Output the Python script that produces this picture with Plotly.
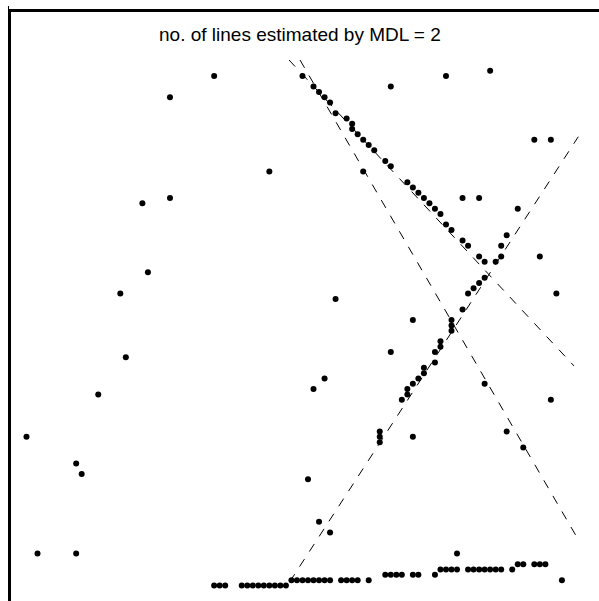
import plotly.graph_objects as go

# Edge-pixel positions (column index, row index from top)
point_cols = [
    3, 12, 13, 5, 12, 16, 21, 20, 25, 24, 29, 29, 37, 47,
    53, 55, 56, 57, 58, 59, 61, 62, 62, 63, 64, 65, 66, 68, 69, 72, 73, 74, 75, 76, 77, 78, 79, 80, 82, 83, 85, 86,
    64, 69, 79, 87, 82, 85, 95, 98, 92, 96, 99,
    88, 89, 89, 90, 86, 85, 84, 83, 82, 80, 80, 80, 78, 78, 77, 77, 75, 75, 74, 73, 72, 72, 71, 67, 67, 67,
    59, 73, 69, 57, 55, 86, 98, 73, 90, 93, 54, 56, 58, 81, 100,
    37, 38, 39, 42, 43, 44, 45, 46, 47, 48, 49, 50,
    51, 52, 53, 54, 55, 56, 57, 58, 60, 61, 62, 63, 65,
    68, 69, 70, 71, 73, 74, 77,
    78, 79, 80, 81, 83, 84, 85, 86, 87, 88, 89, 91,
    92, 93, 95, 96, 97,
]
point_rows = [
    80, 85, 87, 102, 102, 72, 65, 53, 49, 36, 35, 16, 12, 30,
    12, 14, 15, 16, 17, 19, 20, 21, 22, 23, 24, 25, 26, 28, 29, 32, 33, 34, 35, 36, 37, 38, 40, 41, 43, 44, 46, 47,
    30, 14, 12, 11, 35, 35, 24, 24, 37, 46, 53,
    47, 46, 44, 42, 50, 51, 52, 53, 56, 58, 59, 60, 62, 63, 64, 66, 67, 68, 69, 70, 71, 72, 73, 79, 80, 81,
    54, 58, 64, 69, 71, 70, 73, 80, 79, 82, 88, 96, 98, 102, 107,
    108, 108, 108, 108, 108, 108, 108, 108, 108, 108, 108, 108,
    107, 107, 107, 107, 107, 107, 107, 107, 107, 107, 107, 107, 107,
    106, 106, 106, 106, 106, 106, 106,
    105, 105, 105, 105, 105, 105, 105, 105, 105, 105, 105, 105,
    104, 104, 104, 104, 104,
]

# Estimated lines (endpoints in the same column/row units)
line_x = [[50.56, 102.2], [52.55, 102.9], [50.7, 102.97]]
line_y = [[8.98, 66.64], [8.98, 99.25], [107.3, 23.44]]

title_text = "no. of lines estimated by MDL = 2"

fig = go.Figure()
for lx, ly in zip(line_x, line_y):
    fig.add_trace(go.Scatter(
        x=lx, y=ly, mode="lines",
        line=dict(color="black", width=1, dash="9px,9px"),
        hoverinfo="skip", showlegend=False,
    ))

fig.add_trace(go.Scatter(
    x=point_cols, y=point_rows, mode="markers",
    marker=dict(color="black", size=6, line=dict(width=0)),
    showlegend=False,
))

fig.add_annotation(
    x=52.6, y=4.1, xref="x", yref="y",
    text=title_text, showarrow=False,
    xanchor="center", yanchor="middle",
    font=dict(family="Liberation Sans, Arial, sans-serif", size=19, color="black"),
)

# small stub of the left frame line above the top line
fig.add_shape(type="line", xref="paper", yref="paper",
              x0=-0.0043, x1=-0.0043, y0=1.0051, y1=1.0102,
              line=dict(color="black", width=1))

fig.update_xaxes(range=[0.196, 106.72], side="top", showline=True, linewidth=3,
                 linecolor="black", showticklabels=False, ticks="", showgrid=False,
                 zeroline=False)
fig.update_yaxes(range=[110.93, -0.06], showline=True, linewidth=3,
                 linecolor="black", showticklabels=False, ticks="", showgrid=False,
                 zeroline=False)

fig.update_layout(
    width=599, height=601,
    margin=dict(l=11, r=0, t=12, b=0, pad=0),
    plot_bgcolor="white", paper_bgcolor="white",
)

fig.write_html("out.html")
